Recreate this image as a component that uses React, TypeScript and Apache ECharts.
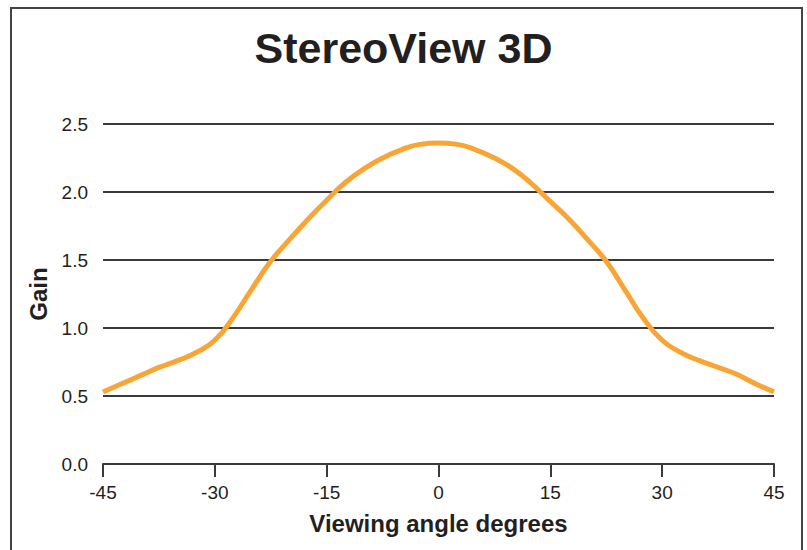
import React, { useEffect, useRef } from "react";
import * as echarts from "echarts";

const angles = [
  -45, -42.5, -40, -37.5, -35, -32.5, -30, -27.5, -25, -22.5, -20, -17.5, -15, -12.5, -10, -7.5, -5, -2.5,
  0, 2.5, 5, 7.5, 10, 12.5, 15, 17.5, 20, 22.5, 25, 27.5, 30, 32.5, 35, 37.5, 40, 42.5, 45,
];
const gain = [
  0.53, 0.59, 0.65, 0.71, 0.76, 0.82, 0.91, 1.08, 1.29, 1.49, 1.65, 1.8, 1.94, 2.07, 2.17, 2.25, 2.31, 2.35,
  2.36, 2.35, 2.31, 2.25, 2.17, 2.06, 1.93, 1.8, 1.65, 1.49, 1.28, 1.07, 0.91, 0.82, 0.76, 0.71, 0.66, 0.59, 0.53,
];
const xTicks = [-45, -30, -15, 0, 15, 30, 45];
const titleText = "StereoView 3D";
const xName = "Viewing angle degrees";
const yName = "Gain";

export default function App() {
  const ref = useRef<HTMLDivElement>(null);
  useEffect(() => {
    if (!ref.current) return;
    const chart = echarts.init(ref.current, undefined, { renderer: "svg" });
    const font = "Liberation Sans, Arial, sans-serif";
    chart.setOption({
      animation: false,
      backgroundColor: "#ffffff",
      title: {
        text: titleText,
        left: "center",
        top: 26,
        padding: 0,
        textStyle: { fontFamily: font, fontSize: 43, fontWeight: "bold", color: "#231f20" },
      },
      graphic: [
        {
          type: "rect",
          shape: { x: 11, y: 8, width: 791, height: 600 },
          style: { fill: "none", stroke: "#444", lineWidth: 2 },
          silent: true,
        },
      ],
      grid: { left: 103, right: 33, top: 124, bottom: 86 },
      xAxis: {
        type: "value",
        min: -45,
        max: 45,
        interval: 15,
        name: xName,
        nameLocation: "middle",
        nameGap: 47,
        nameTextStyle: { fontFamily: font, fontSize: 24, fontWeight: "bold", color: "#231f20" },
        axisLine: { show: true, onZero: false, lineStyle: { color: "#3a3a3a", width: 2 } },
        axisTick: { show: true, inside: false, length: 13, lineStyle: { color: "#3a3a3a", width: 2 } },
        axisLabel: {
          margin: 19,
          fontFamily: font,
          fontSize: 19,
          color: "#231f20",
          formatter: (v: number) => (xTicks.includes(v) ? String(v) : ""),
        },
        splitLine: { show: false },
      },
      yAxis: {
        type: "value",
        min: 0,
        max: 2.5,
        interval: 0.5,
        name: yName,
        nameLocation: "middle",
        nameGap: 51,
        nameTextStyle: { fontFamily: font, fontSize: 24, fontWeight: "bold", color: "#231f20" },
        axisLine: { show: false },
        axisTick: { show: false },
        axisLabel: {
          margin: 15,
          fontFamily: font,
          fontSize: 19,
          color: "#231f20",
          formatter: (v: number) => v.toFixed(1),
        },
        splitLine: { show: true, lineStyle: { color: "#3a3a3a", width: 2 } },
      },
      series: [
        {
          type: "line",
          data: angles.map((a, i) => [a, gain[i]]),
          smooth: 0.5,
          showSymbol: false,
          lineStyle: { color: "#F8A535", width: 5 },
          z: 5,
        },
      ],
    });
    return () => chart.dispose();
  }, []);
  return <div ref={ref} style={{ position: "fixed", left: 0, top: 0, width: 807, height: 550 }} />;
}
